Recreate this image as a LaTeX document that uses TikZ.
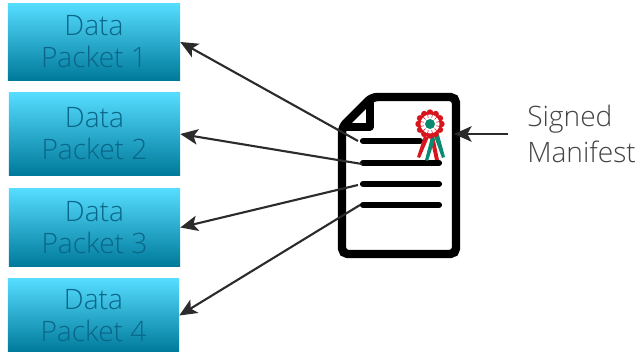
\documentclass[tikz,border=0pt]{standalone}
\usepackage{fontspec}
\setmainfont{Open Sans Light}
\usetikzlibrary{arrows.meta}
\definecolor{boxtop}{HTML}{55DCFF}
\definecolor{boxmid}{HTML}{00C0F0}
\definecolor{boxlow}{HTML}{007A9A}
\definecolor{boxtext}{HTML}{0A6688}
\definecolor{arrowgray}{HTML}{2B2B2B}
\definecolor{labelgray}{HTML}{444444}
\definecolor{rosered}{HTML}{D8141C}
\definecolor{rosegreen}{HTML}{0A8A70}
\tikzset{
  databox/.style={minimum width=4.3cm, minimum height=1.9cm, inner sep=0pt, align=center, top color=boxtop, middle color=boxmid, bottom color=boxlow, text=boxtext, font=\fontsize{20}{22.8}\selectfont},
  linkarrow/.style={draw=arrowgray, line width=1.5pt, -{Stealth[length=12.5pt,width=11pt,inset=3pt]}},
  docline/.style={line width=4.4pt, line cap=round},
}
\begin{document}
\begin{tikzpicture}[x=0.025cm, y=-0.025cm]
\useasboundingbox (0,0) rectangle (640,352);
% data packets
\node[databox] (a) at (94,42) {Data\\Packet 1};
\node[databox, minimum width=4.275cm, minimum height=2.05cm] (b) at (94.5,134) {Data\\Packet 2};
\node[databox, minimum width=4.275cm, minimum height=1.925cm] (c) at (94.5,227.5) {Data\\Packet 3};
\node[databox, minimum width=4.275cm, minimum height=1.825cm] (d) at (93.5,315.5) {Data\\Packet 4};
% document
\draw[line width=6pt, rounded corners=4pt, fill=white] (342,127) -- (372,97) -- (456,97) -- (456,254) -- (342,254) -- cycle;
\draw[line width=5pt, line join=round] (342,127) -- (370,127) -- (370,97);
\draw[docline] (363,141) -- (420,141);
\draw[docline] (363,163) -- (439,163);
\draw[docline] (363,184) -- (439,184);
\draw[docline] (363,205) -- (439,205);
% rosette
\fill[rosered] (424,136) -- (429,137) -- (420,158) -- (417,157) -- cycle;
\fill[rosered] (430,137) -- (434,136) -- (439,160) -- (435,160) -- cycle;
\fill[rosegreen] (431,137) -- (435,139) -- (428,161) -- (425,160) -- cycle;
\fill[rosegreen] (434,136) -- (439,135) -- (445,157) -- (442,158) -- cycle;
\foreach \ang in {0,30,...,330}
  \fill[rosered] (430,124) ++(\ang:11.5) circle[radius=3.2];
\fill[rosered] (430,124) circle[radius=12];
\fill[white] (430,124) circle[radius=9.5];
\foreach \ang in {15,45,...,345}
  \draw[rosered, line width=0.4pt] (430,124) ++(\ang:6.5) -- ++(\ang:3);
\fill[rosegreen] (430,124) circle[radius=5];
% free ends
\coordinate (e1) at (358,141);
\coordinate (e2) at (362,164);
\coordinate (e3) at (358,185);
\coordinate (e4) at (360,205);
\node[anchor=west, inner sep=0pt, align=left, text=labelgray, font=\fontsize{20}{25.6}\selectfont] (m) at (527,134) {Signed\\Manifest};
\coordinate (m1) at (508,134);
\coordinate (m2) at (454,134);
\draw[linkarrow] (e1) -- (a.east);
\draw[linkarrow] (e2) -- (b.east);
\draw[linkarrow] (e3) -- (c.east);
\draw[linkarrow] (e4) -- (d.east);
\draw[linkarrow] (m1) -- (m2);
\end{tikzpicture}
\end{document}
